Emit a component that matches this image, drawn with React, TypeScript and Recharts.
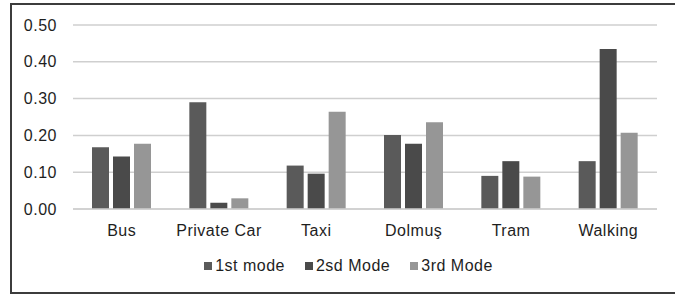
import { BarChart, Bar, XAxis, YAxis, CartesianGrid, Legend } from 'recharts'

const categories = ['Bus', 'Private Car', 'Taxi', 'Dolmuş', 'Tram', 'Walking']
const firstMode = [0.168, 0.29, 0.118, 0.201, 0.09, 0.13]
const secondMode = [0.143, 0.017, 0.096, 0.177, 0.13, 0.435]
const thirdMode = [0.177, 0.029, 0.264, 0.236, 0.088, 0.207]
const yTicks = [0, 0.1, 0.2, 0.3, 0.4, 0.5]

const data = categories.map((name, i) => ({
  name,
  first: firstMode[i],
  second: secondMode[i],
  third: thirdMode[i],
}))

const FONT = '"Liberation Sans", Arial, sans-serif'
const TEXT = '#1e1e1e'
const GRID = '#cfcfcf'
const tickStyle = { fill: TEXT, fontSize: 16, fontFamily: FONT, letterSpacing: 0.5 }

function renderLegend(props: any) {
  const { payload = [] } = props
  return (
    <div
      style={{
        display: 'flex',
        justifyContent: 'center',
        alignItems: 'center',
        gap: 20,
        height: 18,
        fontFamily: FONT,
        fontSize: 16,
        letterSpacing: 0.5,
        color: TEXT,
        paddingLeft: 40,
      }}
    >
      {payload.map((p: any) => (
        <div key={p.value} style={{ display: 'flex', alignItems: 'center' }}>
          <span style={{ width: 8, height: 8, background: p.color, marginRight: 3, display: 'inline-block' }} />
          <span>{p.value}</span>
        </div>
      ))}
    </div>
  )
}

export default function App() {
  return (
    <div
      style={{
        position: 'fixed',
        left: 0,
        top: 0,
        width: 675,
        height: 295,
        overflow: 'hidden',
        background: '#fff',
      }}
    >
      <div
        style={{
          position: 'absolute',
          left: 10,
          top: 3,
          width: 700,
          height: 291,
          boxSizing: 'border-box',
          border: '2px solid #3c3c3c',
        }}
      />
      <div style={{ position: 'absolute', left: 0, top: 0 }}>
        <BarChart
          width={675}
          height={295}
          data={data}
          margin={{ top: 25, right: 18, left: 0, bottom: 20 }}
          barSize={17}
          barGap={4}
        >
          <CartesianGrid vertical={false} stroke={GRID} strokeWidth={1.5} />
          <XAxis
            dataKey="name"
            height={48}
            tickLine={false}
            tickSize={0}
            tickMargin={16}
            axisLine={{ stroke: GRID, strokeWidth: 1.5 }}
            tick={tickStyle}
          />
          <YAxis
            width={73}
            domain={[0, 0.5]}
            ticks={yTicks}
            axisLine={false}
            tickLine={false}
            tickSize={0}
            tickMargin={16}
            tickFormatter={(v: number) => v.toFixed(2)}
            tick={tickStyle}
          />
          <Legend verticalAlign="bottom" content={renderLegend} />
          <Bar dataKey="first" name="1st mode" fill="#5a5a5a" isAnimationActive={false} />
          <Bar dataKey="second" name="2sd Mode" fill="#4a4a4a" isAnimationActive={false} />
          <Bar dataKey="third" name="3rd Mode" fill="#969696" isAnimationActive={false} />
        </BarChart>
      </div>
    </div>
  )
}
